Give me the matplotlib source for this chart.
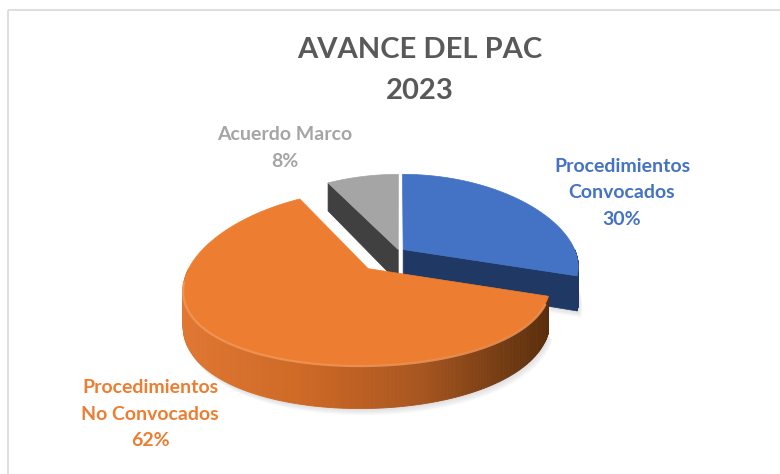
import numpy as np
import matplotlib.pyplot as plt
from matplotlib.patches import Polygon, Rectangle
from matplotlib.colors import to_rgb

# datos del grafico
categorias = ["Procedimientos\nConvocados", "Procedimientos\nNo Convocados", "Acuerdo Marco"]
porcentajes = [30, 62, 8]
color_sup = ["#4472C4", "#ED7D31", "#A5A5A5"]
color_lado = ["#1F3864", "#C8651F", "#404040"]
explosion = [0.03, 0.27, 0.018]
titulo = ["AVANCE DEL PAC", "2023"]

# geometria del pastel 3D (en pixeles de la figura)
CX, CY = 399, 251
RX, RY = 172, 83
PROF = 33
PX, PY = 0.2, 0.1

FUENTE = ["Lato", "DejaVu Sans"]


def proy(u, v, h=0.0):
    wx = 1.0 / (1.0 + PX * v)
    wy = 1.0 / (1.0 + PY * v)
    return CX + RX * u * wx, CY - RY * v * wy + PROF * h * wx


def degradado(t):
    # sombreado del borde naranja, de izquierda (claro) a derecha (oscuro)
    stops = [(0.0, "#E07732"), (0.35, "#CC6825"), (0.65, "#A85620"), (0.85, "#7A3F14"), (1.0, "#5A2E0D")]
    for (t0, c0), (t1, c1) in zip(stops[:-1], stops[1:]):
        if t <= t1:
            f = (t - t0) / (t1 - t0)
            a, b = np.array(to_rgb(c0)), np.array(to_rgb(c1))
            return tuple(a + (b - a) * f)
    return to_rgb(stops[-1][1])


fig = plt.figure(figsize=(7.8, 4.74), dpi=100)
ax = fig.add_axes([0, 0, 1, 1])
ax.set_xlim(0, 780)
ax.set_ylim(474, 0)
ax.axis("off")

ax.add_patch(Rectangle((8, 10), 900, 600, fill=False, edgecolor="#D9D9D9", lw=1.2))

inicio = 90.0
cortes = []
for pct in porcentajes:
    a0 = inicio
    a1 = inicio - pct * 3.6
    cortes.append((a0, a1))
    inicio = a1

# sombra suave bajo el pastel
for i in [0, 1]:
    a0, a1 = cortes[i]
    mid = np.radians((a0 + a1) / 2)
    ou, ov = explosion[i] * np.cos(mid), explosion[i] * np.sin(mid)
    th = np.radians(np.linspace(a1, a0, 200))
    base = [proy(ou, ov, 1)] + [proy(ou + np.cos(t), ov + np.sin(t), 1) for t in th]
    for s in range(1, 7):
        pts = [(x + s * 0.7, y + s * 1.1) for x, y in base]
        ax.add_patch(Polygon(pts, closed=True, fc="#808080", ec="none", alpha=0.045))

# orden de dibujo: azul, gris, naranja (la naranja queda delante)
for i in [0, 2, 1]:
    a0, a1 = cortes[i]
    mid = np.radians((a0 + a1) / 2)
    ou, ov = explosion[i] * np.cos(mid), explosion[i] * np.sin(mid)
    th = np.radians(np.linspace(a1, a0, 200))
    au, av = ou + np.cos(th), ov + np.sin(th)

    # caras radiales visibles
    for ang, normal in [(a1, a1 - 90), (a0, a0 + 90)]:
        if np.sin(np.radians(normal)) < -0.05:
            r = np.radians(ang)
            pts = [proy(ou, ov), proy(ou + np.cos(r), ov + np.sin(r)),
                   proy(ou + np.cos(r), ov + np.sin(r), 1), proy(ou, ov, 1)]
            ax.add_patch(Polygon(pts, closed=True, fc=color_lado[i], ec=color_lado[i], lw=0.5))

    # pared exterior frontal
    lo, hi = max(a1, -180.0), min(a0, 0.0)
    if lo < hi:
        tw = np.radians(np.linspace(lo, hi, 160))
        wu, wv = ou + np.cos(tw), ov + np.sin(tw)
        xs_all = [proy(u, v)[0] for u, v in zip(au, av)]
        xmin, xmax = min(xs_all), max(xs_all)
        for k in range(len(tw) - 1):
            p1, p2 = proy(wu[k], wv[k]), proy(wu[k + 1], wv[k + 1])
            q2, q1 = proy(wu[k + 1], wv[k + 1], 1), proy(wu[k], wv[k], 1)
            if i == 1:
                t = np.clip(((p1[0] + p2[0]) / 2 - xmin) / (xmax - xmin), 0, 1)
                c = degradado(t)
            else:
                c = color_lado[i]
            ax.add_patch(Polygon([p1, p2, q2, q1], closed=True, fc=c, ec=c, lw=0.6))

    # cara superior
    top = [proy(ou, ov)] + [proy(u, v) for u, v in zip(au, av)]
    ax.add_patch(Polygon(top, closed=True, fc=color_sup[i], ec=color_sup[i], lw=0.5))

    if i == 1 and lo < hi:
        tw = np.radians(np.linspace(lo + 8, hi - 5, 120))
        hx, hy = zip(*[proy(ou + np.cos(t), ov + np.sin(t)) for t in tw])
        ax.plot(hx, np.array(hy) + 1.0, color="#F29A5C", lw=1.6, alpha=0.8, solid_capstyle="round")

# titulo
ax.text(420, 50, titulo[0], ha="center", va="center", fontsize=21, fontweight="bold",
        color="#595959", family=FUENTE)
ax.text(420, 91, titulo[1], ha="center", va="center", fontsize=21, fontweight="bold",
        color="#595959", family=FUENTE)

# etiquetas de datos
pos_etiquetas = [(622, 193), (150, 414), (285, 148)]
for i, (x, y) in enumerate(pos_etiquetas):
    texto = f"{categorias[i]}\n{porcentajes[i]}%"
    ax.text(x, y, texto, ha="center", va="center", fontsize=14, fontweight="bold",
            color=color_sup[i], family=FUENTE, linespacing=1.65)

plt.savefig("out.png", dpi=100)
plt.close()
